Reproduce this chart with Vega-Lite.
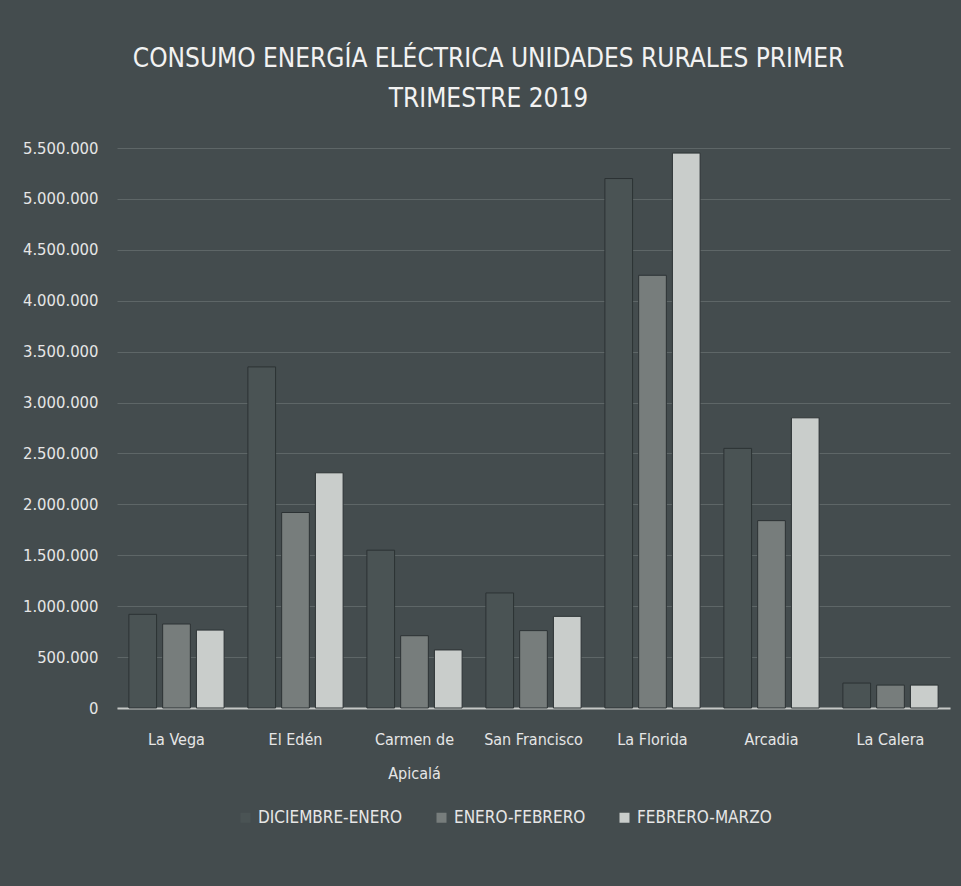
{
  "$schema": "https://vega.github.io/schema/vega-lite/v6.json",
  "width": 833,
  "height": 560,
  "autosize": {"type": "none"},
  "padding": {"left": 117, "top": 148, "right": 11, "bottom": 178},
  "background": "#444c4e",
  "title": {
    "text": ["CONSUMO ENERGÍA ELÉCTRICA UNIDADES RURALES PRIMER", "TRIMESTRE 2019"],
    "anchor": "middle",
    "frame": "group",
    "dx": -45,
    "offset": 28,
    "font": "DejaVu Sans Condensed, Roboto, sans-serif",
    "fontSize": 26,
    "fontWeight": "normal",
    "lineHeight": 40,
    "color": "#f2f2f2"
  },
  "data": {
    "values": [
      {"lugar": "La Vega", "periodo": "DICIEMBRE-ENERO", "consumo": 920000},
      {"lugar": "La Vega", "periodo": "ENERO-FEBRERO", "consumo": 825000},
      {"lugar": "La Vega", "periodo": "FEBRERO-MARZO", "consumo": 765000},
      {"lugar": "El Edén", "periodo": "DICIEMBRE-ENERO", "consumo": 3350000},
      {"lugar": "El Edén", "periodo": "ENERO-FEBRERO", "consumo": 1920000},
      {"lugar": "El Edén", "periodo": "FEBRERO-MARZO", "consumo": 2310000},
      {"lugar": "Carmen de Apicalá", "periodo": "DICIEMBRE-ENERO", "consumo": 1550000},
      {"lugar": "Carmen de Apicalá", "periodo": "ENERO-FEBRERO", "consumo": 710000},
      {"lugar": "Carmen de Apicalá", "periodo": "FEBRERO-MARZO", "consumo": 570000},
      {"lugar": "San Francisco", "periodo": "DICIEMBRE-ENERO", "consumo": 1130000},
      {"lugar": "San Francisco", "periodo": "ENERO-FEBRERO", "consumo": 760000},
      {"lugar": "San Francisco", "periodo": "FEBRERO-MARZO", "consumo": 900000},
      {"lugar": "La Florida", "periodo": "DICIEMBRE-ENERO", "consumo": 5200000},
      {"lugar": "La Florida", "periodo": "ENERO-FEBRERO", "consumo": 4250000},
      {"lugar": "La Florida", "periodo": "FEBRERO-MARZO", "consumo": 5450000},
      {"lugar": "Arcadia", "periodo": "DICIEMBRE-ENERO", "consumo": 2550000},
      {"lugar": "Arcadia", "periodo": "ENERO-FEBRERO", "consumo": 1840000},
      {"lugar": "Arcadia", "periodo": "FEBRERO-MARZO", "consumo": 2850000},
      {"lugar": "La Calera", "periodo": "DICIEMBRE-ENERO", "consumo": 245000},
      {"lugar": "La Calera", "periodo": "ENERO-FEBRERO", "consumo": 225000},
      {"lugar": "La Calera", "periodo": "FEBRERO-MARZO", "consumo": 225000}
    ]
  },
  "mark": {"type": "bar", "stroke": "#2c3234", "strokeWidth": 1},
  "encoding": {
    "x": {
      "field": "lugar",
      "type": "nominal",
      "sort": ["La Vega", "El Edén", "Carmen de Apicalá", "San Francisco", "La Florida", "Arcadia", "La Calera"],
      "scale": {"paddingInner": 0.2, "paddingOuter": 0.1},
      "axis": {
        "title": null,
        "labelAngle": 0,
        "ticks": false,
        "labelPadding": 23,
        "labelFont": "DejaVu Sans Condensed, Roboto, sans-serif",
        "labelFontSize": 16,
        "labelColor": "#e6e6e6",
        "labelLineHeight": 34,
        "labelExpr": "datum.label == 'Carmen de Apicalá' ? ['Carmen de', 'Apicalá'] : datum.label",
        "domainColor": "#c5c8c6",
        "domainWidth": 2,
        "grid": false
      }
    },
    "xOffset": {
      "field": "periodo",
      "type": "nominal",
      "sort": ["DICIEMBRE-ENERO", "ENERO-FEBRERO", "FEBRERO-MARZO"],
      "scale": {"paddingInner": 0.18, "paddingOuter": 0}
    },
    "y": {
      "field": "consumo",
      "type": "quantitative",
      "scale": {"domain": [0, 5500000]},
      "axis": {
        "title": null,
        "values": [0, 500000, 1000000, 1500000, 2000000, 2500000, 3000000, 3500000, 4000000, 4500000, 5000000, 5500000],
        "format": ",d",
        "domain": false,
        "ticks": false,
        "labelPadding": 19,
        "labelFont": "DejaVu Sans Condensed, Roboto, sans-serif",
        "labelFontSize": 16.5,
        "labelColor": "#e6e6e6",
        "gridColor": "#9aa2a2",
        "gridOpacity": 0.3,
        "gridWidth": 1
      }
    },
    "color": {
      "field": "periodo",
      "type": "nominal",
      "sort": ["DICIEMBRE-ENERO", "ENERO-FEBRERO", "FEBRERO-MARZO"],
      "scale": {"domain": ["DICIEMBRE-ENERO", "ENERO-FEBRERO", "FEBRERO-MARZO"], "range": ["#4a5354", "#777d7c", "#c9cdcb"]},
      "legend": {
        "title": null,
        "orient": "none",
        "direction": "horizontal",
        "legendX": 120,
        "legendY": 661,
        "symbolType": "square",
        "symbolSize": 100,
        "symbolStrokeWidth": 0,
        "labelFont": "DejaVu Sans Condensed, Roboto, sans-serif",
        "labelFontSize": 17,
        "labelColor": "#e6e6e6",
        "labelOffset": 4,
        "columnPadding": 30,
        "labelLimit": 300
      }
    }
  },
  "config": {
    "view": {"stroke": null},
    "locale": {
      "number": {"decimal": ",", "thousands": ".", "grouping": [3], "currency": ["$", ""]}
    }
  }
}
